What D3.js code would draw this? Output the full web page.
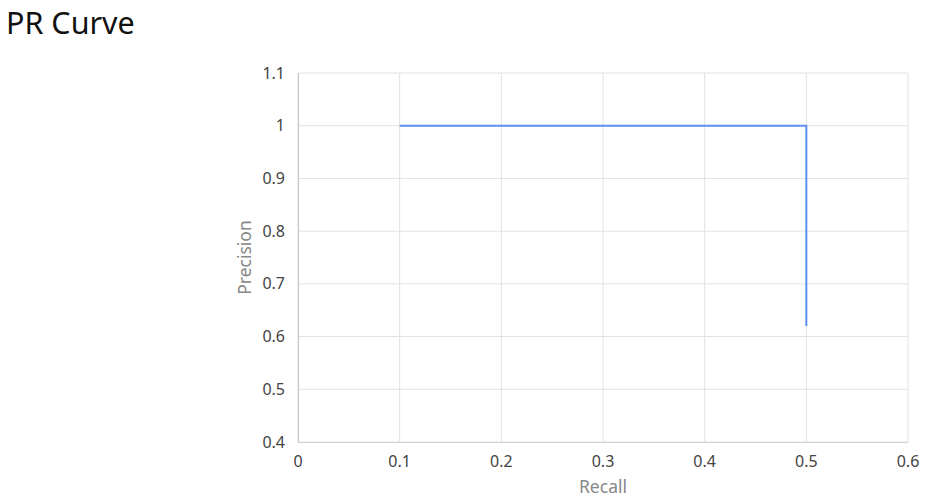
<!DOCTYPE html>
<html>
<head>
<meta charset="utf-8">
<script src="https://cdn.jsdelivr.net/npm/d3@7"></script>
<style>
  body { margin: 0; background: #fff; font-family: "Noto Sans", "Open Sans", sans-serif; }
  .title { position: absolute; left: 6px; top: 1px; font-size: 30.5px; color: #111; }
</style>
</head>
<body>
<div class="title">PR Curve</div>
<div id="chart"></div>
<script>
// data
const recall = [0.1, 0.5, 0.5];
const precision = [1, 1, 0.62];
const xTicks = [0, 0.1, 0.2, 0.3, 0.4, 0.5, 0.6];
const yTicks = [0.4, 0.5, 0.6, 0.7, 0.8, 0.9, 1, 1.1];

const width = 926, height = 498;
const margin = {left: 298, right: 18, top: 73, bottom: 56};

let svg = d3.select("#chart")
  .append("svg")
  .attr("width", width)
  .attr("height", height);

let x = d3.scaleLinear().domain([0, 0.6]).range([margin.left, width - margin.right]);
let y = d3.scaleLinear().domain([0.4, 1.1]).range([height - margin.bottom, margin.top]);

// grid
svg.append("g")
  .selectAll("line")
  .data(xTicks)
  .enter().append("line")
    .attr("x1", d => x(d)).attr("x2", d => x(d))
    .attr("y1", y(0.4)).attr("y2", y(1.1))
    .attr("stroke", "#e2e2e2");

svg.append("g")
  .selectAll("line")
  .data(yTicks)
  .enter().append("line")
    .attr("x1", x(0)).attr("x2", x(0.6))
    .attr("y1", d => y(d)).attr("y2", d => y(d))
    .attr("stroke", "#e2e2e2");

// axes lines
svg.append("line")
  .attr("x1", x(0) + 0.5).attr("x2", x(0) + 0.5)
  .attr("y1", y(1.1)).attr("y2", y(0.4))
  .attr("stroke", "#c4c4c4");
svg.append("line")
  .attr("x1", x(0)).attr("x2", x(0.6))
  .attr("y1", y(0.4) + 0.5).attr("y2", y(0.4) + 0.5)
  .attr("stroke", "#d4d4d4");

// tick labels
svg.append("g")
  .selectAll("text")
  .data(xTicks)
  .enter().append("text")
    .attr("x", d => x(d))
    .attr("y", y(0.4) + 25)
    .attr("text-anchor", "middle")
    .attr("fill", "#444")
    .style("font-size", "16px")
    .text(d => d3.format("~g")(d));

svg.append("g")
  .selectAll("text")
  .data(yTicks)
  .enter().append("text")
    .attr("x", x(0) - 13)
    .attr("y", d => y(d) + 5.5)
    .attr("text-anchor", "end")
    .attr("fill", "#444")
    .style("font-size", "16px")
    .text(d => d3.format("~g")(d));

// axis titles
svg.append("text")
  .attr("x", (x(0) + x(0.6)) / 2)
  .attr("y", 493)
  .attr("text-anchor", "middle")
  .attr("fill", "#888")
  .style("font-size", "17.5px")
  .text("Recall");

svg.append("text")
  .attr("transform", `translate(251, ${y(0.75)}) rotate(-90)`)
  .attr("text-anchor", "middle")
  .attr("fill", "#888")
  .style("font-size", "17.5px")
  .text("Precision");

// curve
let line = d3.line()
  .x((d, i) => x(recall[i]))
  .y((d, i) => y(precision[i]));

svg.append("path")
  .datum(recall)
  .attr("d", line)
  .attr("fill", "none")
  .attr("stroke", "#5f8ff0")
  .attr("stroke-width", 2);
</script>
</body>
</html>
